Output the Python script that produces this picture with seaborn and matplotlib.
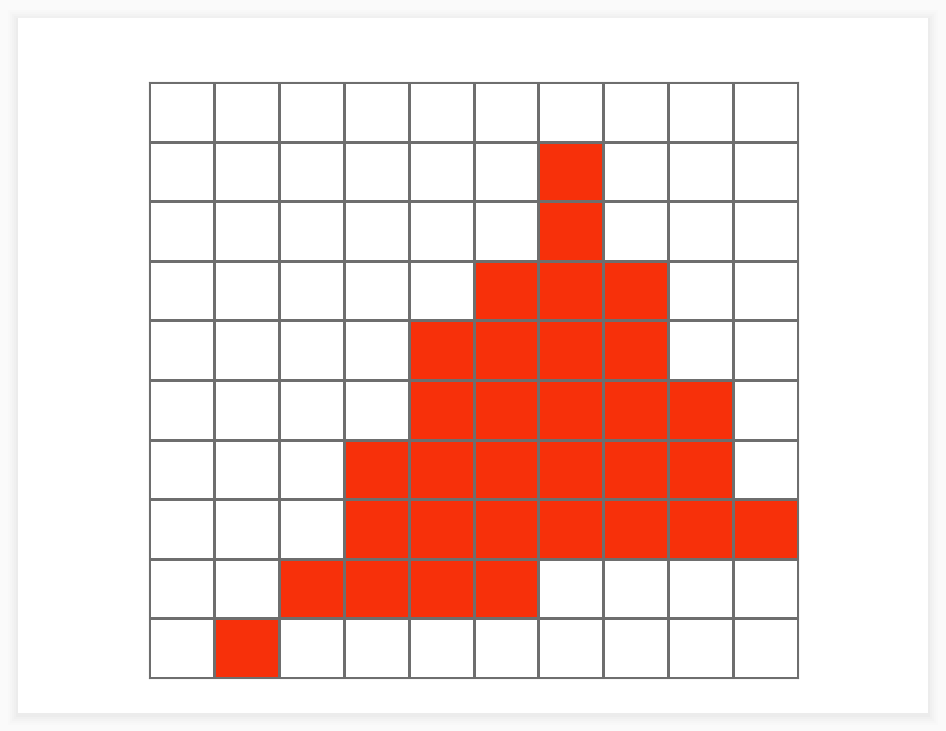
import matplotlib
matplotlib.use("Agg")
import matplotlib.pyplot as plt
from matplotlib.colors import ListedColormap
from matplotlib.patches import Rectangle
import numpy as np
import pandas as pd
import seaborn as sns

# 10x10 grid, top row first; 1 = filled cell
row_labels = [str(i) for i in range(10)]
col_labels = [str(i) for i in range(10)]
row0 = [0, 0, 0, 0, 0, 0, 0, 0, 0, 0]
row1 = [0, 0, 0, 0, 0, 0, 1, 0, 0, 0]
row2 = [0, 0, 0, 0, 0, 0, 1, 0, 0, 0]
row3 = [0, 0, 0, 0, 0, 1, 1, 1, 0, 0]
row4 = [0, 0, 0, 0, 1, 1, 1, 1, 0, 0]
row5 = [0, 0, 0, 0, 1, 1, 1, 1, 1, 0]
row6 = [0, 0, 0, 1, 1, 1, 1, 1, 1, 0]
row7 = [0, 0, 0, 1, 1, 1, 1, 1, 1, 1]
row8 = [0, 0, 1, 1, 1, 1, 0, 0, 0, 0]
row9 = [0, 1, 0, 0, 0, 0, 0, 0, 0, 0]

grid = pd.DataFrame([row0, row1, row2, row3, row4, row5, row6, row7, row8, row9],
                    index=row_labels, columns=col_labels)

W, H = 946, 731
fig = plt.figure(figsize=(W / 100, H / 100), dpi=100)
fig.patch.set_facecolor("#fafafa")

# soft shadow + white card
for i, a in enumerate([0.006, 0.008, 0.010, 0.012, 0.014]):
    d = (5 - i) * 2
    fig.patches.append(Rectangle(((18 - d) / W, (16 - d) / H), (910 + 2 * d) / W, (695 + 2 * d) / H,
                                 transform=fig.transFigure, facecolor="black", alpha=a,
                                 edgecolor="none", zorder=0))
fig.patches.append(Rectangle((18 / W, 18 / H), 910 / W, 695 / H, transform=fig.transFigure,
                             facecolor="white", edgecolor="none", zorder=1))

ax = fig.add_axes([149 / W, (H - 678) / H, 649 / W, 596 / H])
ax.set_zorder(2)
cmap = ListedColormap(["#ffffff", "#f7300a"])
sns.heatmap(grid, ax=ax, cmap=cmap, vmin=0, vmax=1, cbar=False,
            linewidths=0.8, linecolor="#6e6e6e", square=False,
            xticklabels=False, yticklabels=False)
for s in ax.spines.values():
    s.set_visible(True)
    s.set_color("#6e6e6e")
    s.set_linewidth(0.8)
ax.set_xlabel("")
ax.set_ylabel("")

fig.savefig("out.png", dpi=100, facecolor=fig.get_facecolor())
